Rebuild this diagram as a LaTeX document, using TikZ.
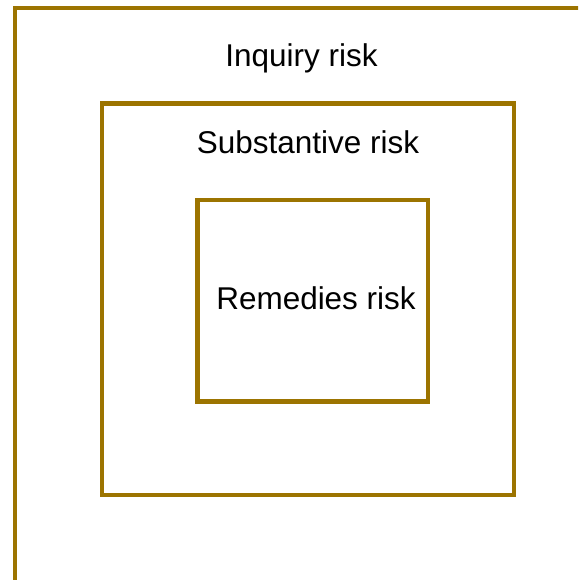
\documentclass[tikz,border=0pt]{standalone}
\usepackage{fontspec}
\setmainfont{Liberation Sans}
\tikzset{every picture/.style={line width=0.75pt}}
\tikzset{riskbox/.style={draw={rgb, 255:red, 156; green, 116; blue, 0}, line width=3.5pt},
riskname/.style={anchor=base, inner sep=0pt, font=\fontsize{23.6}{28}\selectfont}}

\begin{document}
\begin{tikzpicture}[x=0.75pt,y=0.75pt,yscale=-1,xscale=1]
\useasboundingbox (0,0) rectangle (578,580);
\clip (0,0) rectangle (578,580);

%Shape: Rectangle [outer, runs off the page]
\draw [riskbox] (15,8) rectangle (620,620);
%Shape: Rectangle [middle]
\draw [riskbox] (102,103.5) rectangle (514,495);
%Shape: Rectangle [inner]
\draw [riskbox] (197.5,200) rectangle (428,401.5);

% Text Node
\node [riskname] (inquiry) at (301.5,67) {Inquiry risk};
% Text Node
\node [riskname] (substantive) at (308,154) {Substantive risk};
% Text Node
\node [riskname] (remedies) at (316,309) {Remedies risk};

\end{tikzpicture}
\end{document}
